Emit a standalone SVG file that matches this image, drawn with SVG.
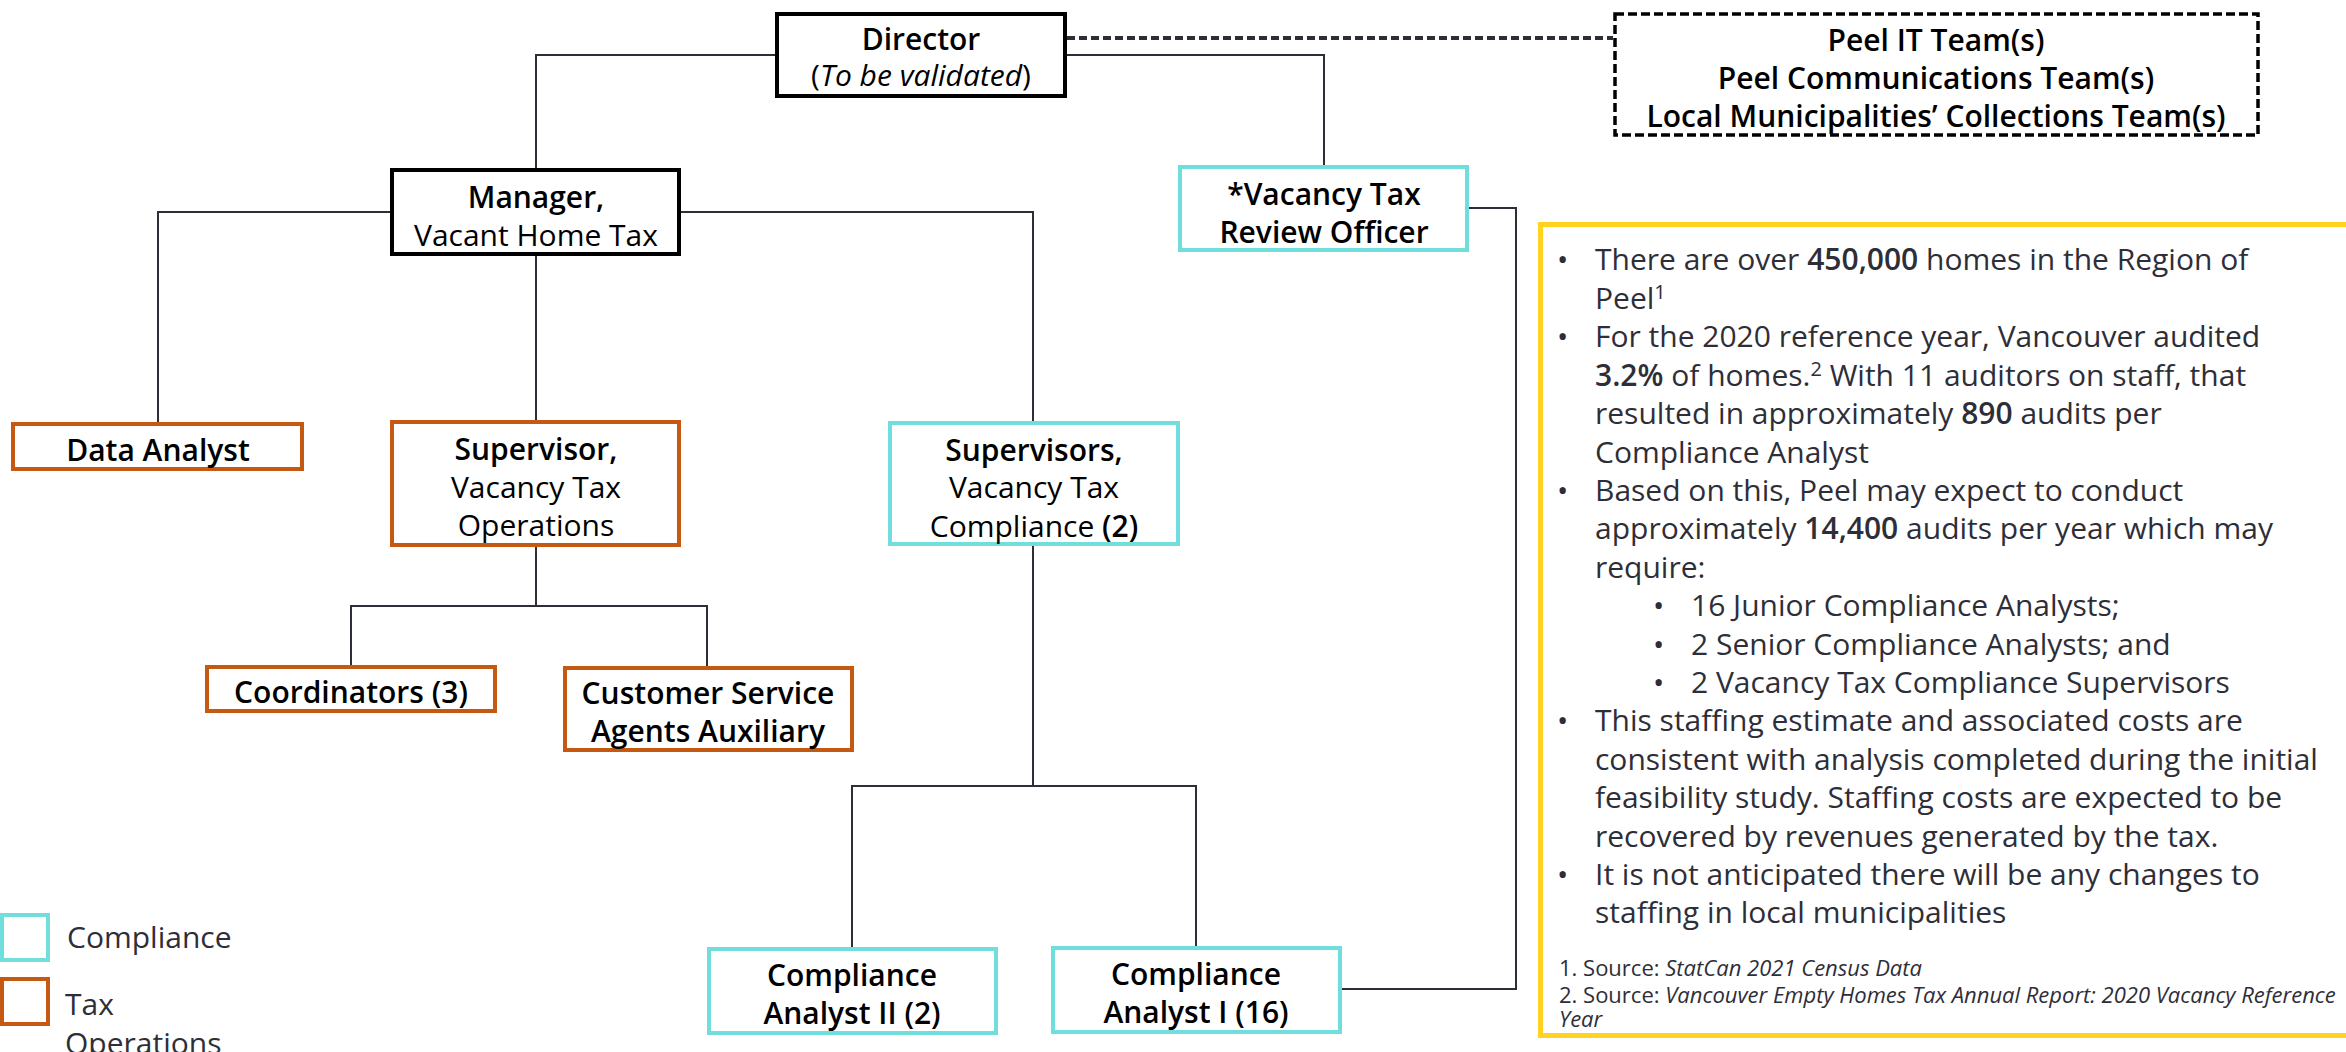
<svg xmlns="http://www.w3.org/2000/svg" width="2346" height="1052" viewBox="0 0 2346 1052">
<style>
text{font-family:"Open Sans","Noto Sans","Liberation Sans",sans-serif;font-size:30px;fill:#000}
.c{text-anchor:middle}
.b{font-weight:600}
.i{font-style:italic}
.p{fill:#2E2E38}
.fn{font-size:22px;fill:#2E2E38}
.sup{font-size:20px}
.blk{fill:#fff;stroke:#000;stroke-width:4}
.cyan{fill:#fff;stroke:#6FDEDC;stroke-width:4}
.org{fill:#fff;stroke:#C65911;stroke-width:4}
.dash{fill:#fff;stroke:#000;stroke-width:3.5;stroke-dasharray:9 4}
#connectors path{fill:none;stroke:#2E2E38;stroke-width:2}
</style>
<rect width="2346" height="1052" fill="#fff"/>
<g id="connectors">
<path d="M775,55 H536 V168"/>
<path d="M1067,55 H1324 V165"/>
<path d="M1067,38 H1613" style="stroke-width:4;stroke-dasharray:8 4;stroke:#2E2E38"/>
<path d="M390,212 H158 V422"/>
<path d="M681,212 H1033 V421"/>
<path d="M536,256 V420"/>
<path d="M536,547 V606"/>
<path d="M351,665 V606 H707 V666"/>
<path d="M1033,546 V786"/>
<path d="M852,947 V786 H1196 V946"/>
<path d="M1469,208 H1516 V989 H1342"/>
</g>
<g id="director">
<rect class="blk" x="777" y="14" width="288" height="82"/>
<text class="c b" x="921" y="50">Director</text>
<text class="c" x="921" y="86">(<tspan class="i">To be validated</tspan>)</text>
</g>
<g id="peel">
<rect class="dash" x="1615" y="14" width="643" height="121"/>
<text class="c b" x="1936" y="51">Peel IT Team(s)</text>
<text class="c b" x="1936" y="89">Peel Communications Team(s)</text>
<text class="c b" x="1936" y="127">Local Municipalities’ Collections Team(s)</text>
</g>
<g id="manager">
<rect class="blk" x="392" y="170" width="287" height="84"/>
<text class="c b" x="536" y="208">Manager,</text>
<text class="c" x="536" y="246">Vacant Home Tax</text>
</g>
<g id="review-officer">
<rect class="cyan" x="1180" y="167" width="287" height="83"/>
<text class="c b" x="1324" y="205">*Vacancy Tax</text>
<text class="c b" x="1324" y="243">Review Officer</text>
</g>
<g id="data-analyst">
<rect class="org" x="13" y="424" width="289" height="45"/>
<text class="c b" x="158" y="461">Data Analyst</text>
</g>
<g id="supervisor-ops">
<rect class="org" x="392" y="422" width="287" height="123"/>
<text class="c b" x="536" y="460">Supervisor,</text>
<text class="c" x="536" y="498">Vacancy Tax</text>
<text class="c" x="536" y="536">Operations</text>
</g>
<g id="supervisors-compliance">
<rect class="cyan" x="890" y="423" width="288" height="121"/>
<text class="c b" x="1034" y="461">Supervisors,</text>
<text class="c" x="1034" y="498">Vacancy Tax</text>
<text class="c" x="1034" y="537">Compliance <tspan class="b">(2)</tspan></text>
</g>
<g id="coordinators">
<rect class="org" x="207" y="667" width="288" height="44"/>
<text class="c b" x="351" y="703">Coordinators (3)</text>
</g>
<g id="csa">
<rect class="org" x="565" y="668" width="287" height="82"/>
<text class="c b" x="708" y="704">Customer Service</text>
<text class="c b" x="708" y="742">Agents Auxiliary</text>
</g>
<g id="analyst-ii">
<rect class="cyan" x="709" y="949" width="287" height="84"/>
<text class="c b" x="852" y="986">Compliance</text>
<text class="c b" x="852" y="1024">Analyst II (2)</text>
</g>
<g id="analyst-i">
<rect class="cyan" x="1053" y="948" width="287" height="84"/>
<text class="c b" x="1196" y="985">Compliance</text>
<text class="c b" x="1196" y="1023">Analyst I (16)</text>
</g>
<g id="legend">
<rect class="cyan" x="2" y="915" width="46" height="45"/>
<text class="p" x="67" y="948">Compliance</text>
<rect class="org" x="2" y="979" width="46" height="45"/>
<text class="p" x="65" y="1015">Tax</text>
<text class="p" x="65" y="1054">Operations</text>
</g>
<g id="notes">
<rect x="1540.5" y="224.5" width="820" height="811" fill="#fff" stroke="#FFD320" stroke-width="5"/>
<g class="p">
<text class="p" x="1557" y="270">•</text>
<text class="p" x="1595" y="270">There are over <tspan class="b">450,000</tspan> homes in the Region of</text>
<text class="p" x="1595" y="309">Peel<tspan class="sup" dy="-10">1</tspan></text>
<text class="p" x="1557" y="347">•</text>
<text class="p" x="1595" y="347">For the 2020 reference year, Vancouver audited</text>
<text class="p" x="1595" y="386"><tspan class="b">3.2%</tspan> of homes.<tspan class="sup" dy="-10">2</tspan><tspan dy="10"> With 11 auditors on staff, that</tspan></text>
<text class="p" x="1595" y="424">resulted in approximately <tspan class="b">890</tspan> audits per</text>
<text class="p" x="1595" y="463">Compliance Analyst</text>
<text class="p" x="1557" y="501">•</text>
<text class="p" x="1595" y="501">Based on this, Peel may expect to conduct</text>
<text class="p" x="1595" y="539">approximately <tspan class="b">14,400</tspan> audits per year which may</text>
<text class="p" x="1595" y="578">require:</text>
<text class="p" x="1653" y="616">•</text>
<text class="p" x="1691" y="616">16 Junior Compliance Analysts;</text>
<text class="p" x="1653" y="655">•</text>
<text class="p" x="1691" y="655">2 Senior Compliance Analysts; and</text>
<text class="p" x="1653" y="693">•</text>
<text class="p" x="1691" y="693">2 Vacancy Tax Compliance Supervisors</text>
<text class="p" x="1557" y="731">•</text>
<text class="p" x="1595" y="731">This staffing estimate and associated costs are</text>
<text class="p" x="1595" y="770">consistent with analysis completed during the initial</text>
<text class="p" x="1595" y="808">feasibility study. Staffing costs are expected to be</text>
<text class="p" x="1595" y="847">recovered by revenues generated by the tax.</text>
<text class="p" x="1557" y="885">•</text>
<text class="p" x="1595" y="885">It is not anticipated there will be any changes to</text>
<text class="p" x="1595" y="923">staffing in local municipalities</text>
<text class="fn" x="1559" y="976">1. Source: <tspan class="i">StatCan 2021 Census Data</tspan></text>
<text class="fn" x="1559" y="1003">2. Source: <tspan class="i">Vancouver Empty Homes Tax Annual Report: 2020 Vacancy Reference</tspan></text>
<text class="fn i" x="1559" y="1027">Year</text>
</g>
</g>
</svg>
